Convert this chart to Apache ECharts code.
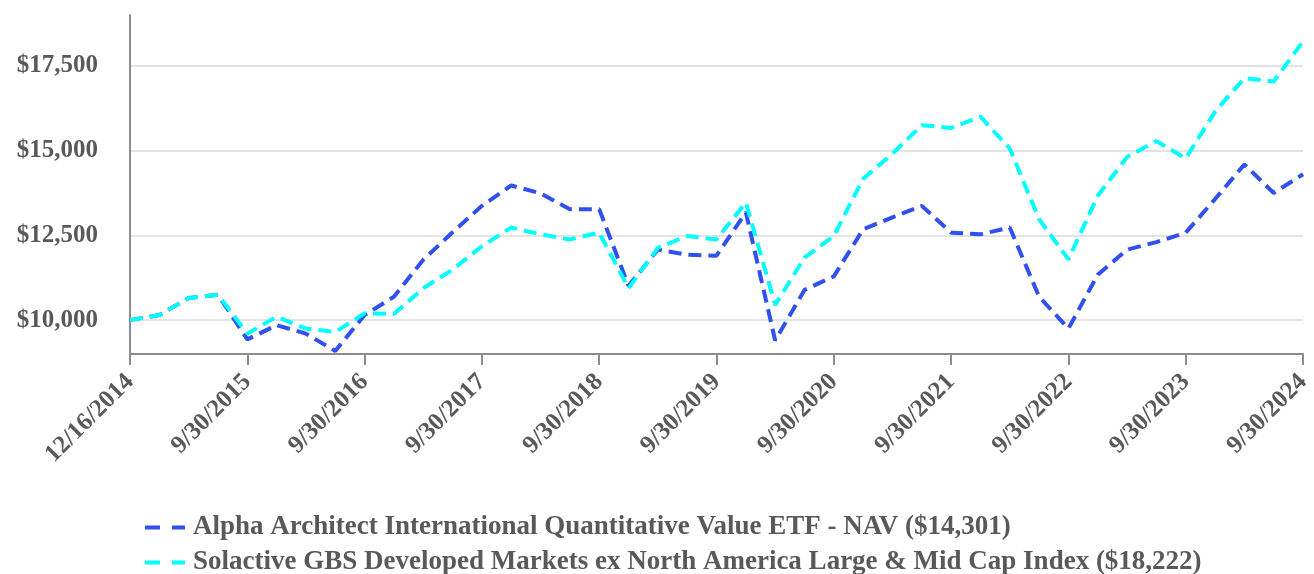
<!DOCTYPE html>
<html>
<head>
<meta charset="utf-8">
<script src="https://cdn.jsdelivr.net/npm/echarts@6/dist/echarts.min.js"></script>
<style>
  html, body { margin: 0; padding: 0; background: #fff; }
  #main { width: 1314px; height: 574px; }
</style>
</head>
<body>
<div id="main"></div>
<script>
// quarterly dates, first point is the fund inception
var dates = [
  '12/16/2014', '12/31/2014', '3/31/2015', '6/30/2015', '9/30/2015',
  '12/31/2015', '3/31/2016', '6/30/2016', '9/30/2016',
  '12/31/2016', '3/31/2017', '6/30/2017', '9/30/2017',
  '12/31/2017', '3/31/2018', '6/30/2018', '9/30/2018',
  '12/31/2018', '3/31/2019', '6/30/2019', '9/30/2019',
  '12/31/2019', '3/31/2020', '6/30/2020', '9/30/2020',
  '12/31/2020', '3/31/2021', '6/30/2021', '9/30/2021',
  '12/31/2021', '3/31/2022', '6/30/2022', '9/30/2022',
  '12/31/2022', '3/31/2023', '6/30/2023', '9/30/2023',
  '12/31/2023', '3/31/2024', '6/30/2024', '9/30/2024'
];

var fundName = 'Alpha Architect International Quantitative Value ETF - NAV ($14,301)';
var indexName = 'Solactive GBS Developed Markets ex North America Large & Mid Cap Index ($18,222)';

var fundValues = [
  10000, 10150, 10650, 10750, 9430,
  9850, 9600, 9090, 10150,
  10690, 11780, 12590, 13370,
  13970, 13740, 13270, 13270,
  11010, 12080, 11930, 11900,
  13180, 9400, 10890, 11290,
  12680, 13030, 13370, 12580,
  12530, 12730, 10690, 9750,
  11340, 12080, 12300, 12580,
  13570, 14590, 13750, 14301
];

var indexValues = [
  10000, 10150, 10650, 10750, 9600,
  10100, 9750, 9650, 10200,
  10180, 10940, 11490, 12180,
  12730, 12530, 12380, 12580,
  10940, 12130, 12480, 12380,
  13470, 10450, 11840, 12480,
  14170, 14910, 15750, 15670,
  16000, 15060, 12980, 11790,
  13670, 14810, 15280, 14770,
  16150, 17140, 17040, 18222
];

var yTicks = [10000, 12500, 15000, 17500];

var myChart = echarts.init(document.getElementById('main'));
var textColor = '#595959';
var font = 'Liberation Serif';
// two short dashes, like the legend keys in the original
var dashIcon = 'path://M0,0h15v4h-15z M27,0h13v4h-13z';

var option = {
  animation: false,
  grid: { left: 130, right: 0, top: 15, bottom: 220 },
  legend: {
    orient: 'vertical',
    left: 145,
    top: 514,
    height: 120,
    padding: 0,
    itemWidth: 40,
    itemHeight: 4,
    itemGap: 8,
    icon: dashIcon,
    data: [fundName, indexName],
    textStyle: {
      color: textColor, fontFamily: font, fontWeight: 700, fontSize: 27,
      lineHeight: 27, padding: [0, 0, 0, 3]
    }
  },
  xAxis: {
    type: 'category',
    boundaryGap: false,
    data: dates,
    axisLine: { lineStyle: { color: '#8c8c8c', width: 2 } },
    axisTick: { interval: 3, length: 11, lineStyle: { color: '#8c8c8c', width: 2 } },
    axisLabel: {
      interval: 3,
      rotate: 45,
      margin: 24,
      color: textColor, fontFamily: font, fontWeight: 700, fontSize: 25
    },
    splitLine: { show: false }
  },
  yAxis: {
    type: 'value',
    min: 9000,
    max: 19000,
    axisLine: { show: true, lineStyle: { color: '#8c8c8c', width: 2 } },
    axisTick: { show: false, customValues: yTicks },
    axisLabel: {
      customValues: yTicks,
      margin: 32,
      color: textColor, fontFamily: font, fontWeight: 700, fontSize: 25,
      formatter: function (v) { return '$' + v.toLocaleString('en-US'); }
    },
    splitLine: { show: true, lineStyle: { color: '#e3e3e3', width: 2 } }
  },
  series: [
    {
      name: fundName,
      type: 'line',
      symbol: 'none',
      data: fundValues,
      lineStyle: { color: '#3050F0', width: 4, type: [13, 7] },
      itemStyle: { color: '#3050F0' }
    },
    {
      name: indexName,
      type: 'line',
      symbol: 'none',
      data: indexValues,
      lineStyle: { color: '#00FFFF', width: 4, type: [13, 7] },
      itemStyle: { color: '#00FFFF' }
    }
  ]
};

myChart.setOption(option);
</script>
</body>
</html>
